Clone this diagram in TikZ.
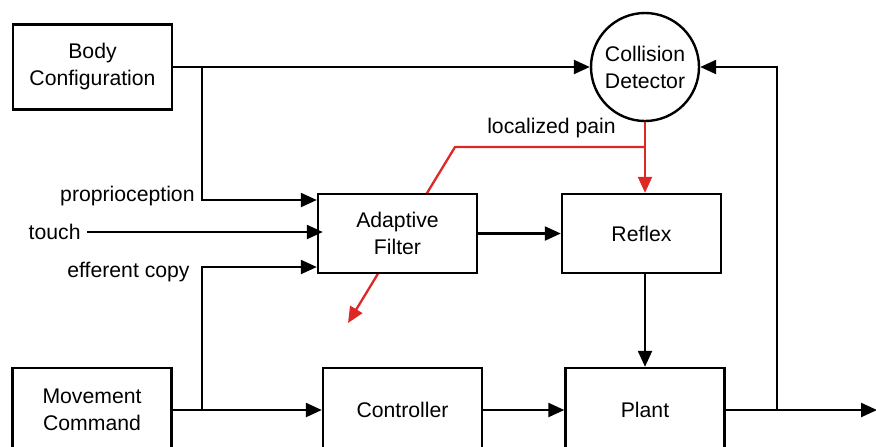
\documentclass[tikz,border=0pt]{standalone}
\usepackage{fontspec}
\setmainfont{Liberation Sans}
\usetikzlibrary{positioning, arrows.meta, backgrounds}
\definecolor{painred}{RGB}{222,40,38}
\tikzset{
  block/.style={draw, line width=1.2pt, fill=white, align=center,
    minimum width=79.5pt, font=\fontsize{10.6pt}{13.5pt}\selectfont},
  lbl/.style={inner sep=0pt, font=\fontsize{10.6pt}{13.5pt}\selectfont},
  flow/.style={line width=1.15pt, -{Triangle[length=8pt,width=7pt]}},
  pain/.style={flow, draw=painred}
}

\begin{document}
\begin{tikzpicture}[x=0.5pt, y=-0.5pt]
      \clip (0,0) rectangle (876,446);
      \node [block, minimum height=42.5pt] (body) at (92.5,67) {Body\\Configuration};
      \node [block, circle, minimum width=0pt, minimum size=54pt, inner sep=0pt] (coll) at (645,67) {Collision\\Detector};
      \node [block, minimum height=39.5pt] (filt) at (397.5,233.5) {Adaptive\\Filter};
      \node [block, minimum height=39.5pt, on grid, right=122pt of filt] (reflex) {Reflex};
      \node [block, minimum height=42pt] (move) at (92,410) {Movement\\Command};
      \node [block, minimum height=42pt, on grid, right=155.25pt of move] (ctrl) {Controller};
      \node [block, minimum height=42pt, on grid, right=121.25pt of ctrl] (plant) {Plant};
      % input labels
      \node [lbl, anchor=base east] (prop) at (195,201) {proprioception};
      \node [lbl, anchor=east] (touch) at (81,232) {touch};
      \node [lbl, anchor=base east] (eff) at (190,277) {efferent copy};
      \node [lbl, anchor=base] (painlbl) at (551.5,133) {localized pain};
      \coordinate (tap) at (202,67);
      \coordinate (fb) at (777,410);
      \coordinate (out) at (877,410);
      \coordinate (painbend) at (455,147);
      \coordinate (painend) at (348,323);
      % signal paths
      \draw [flow] (body.east) -- (coll.west);
      \draw [flow] (tap) |- ([yshift=16.75pt]filt.west);
      \draw [flow] ([xshift=3pt]touch.east) -- ([xshift=3pt]touch.east -| filt.west);
      \draw [flow] (move.east -| tap) |- ([yshift=-16.75pt]filt.west);
      \draw [flow] (move.east) -- (ctrl.west);
      \draw [flow] (filt) -- (reflex);
      \draw [flow] (ctrl) -- (plant);
      \draw [flow] (reflex.south -| plant.north) -- (plant.north);
      \draw [flow] (plant.east) -- (out);
      \draw [flow] (fb) |- (coll.east);
      % pain signal
      \draw [pain] (coll.south) -- (coll.south |- reflex.north);
      \begin{scope}[on background layer]
        \draw [pain] (coll.south |- painbend) -- (painbend) -- (painend);
      \end{scope}
    \end{tikzpicture}
\end{document}
